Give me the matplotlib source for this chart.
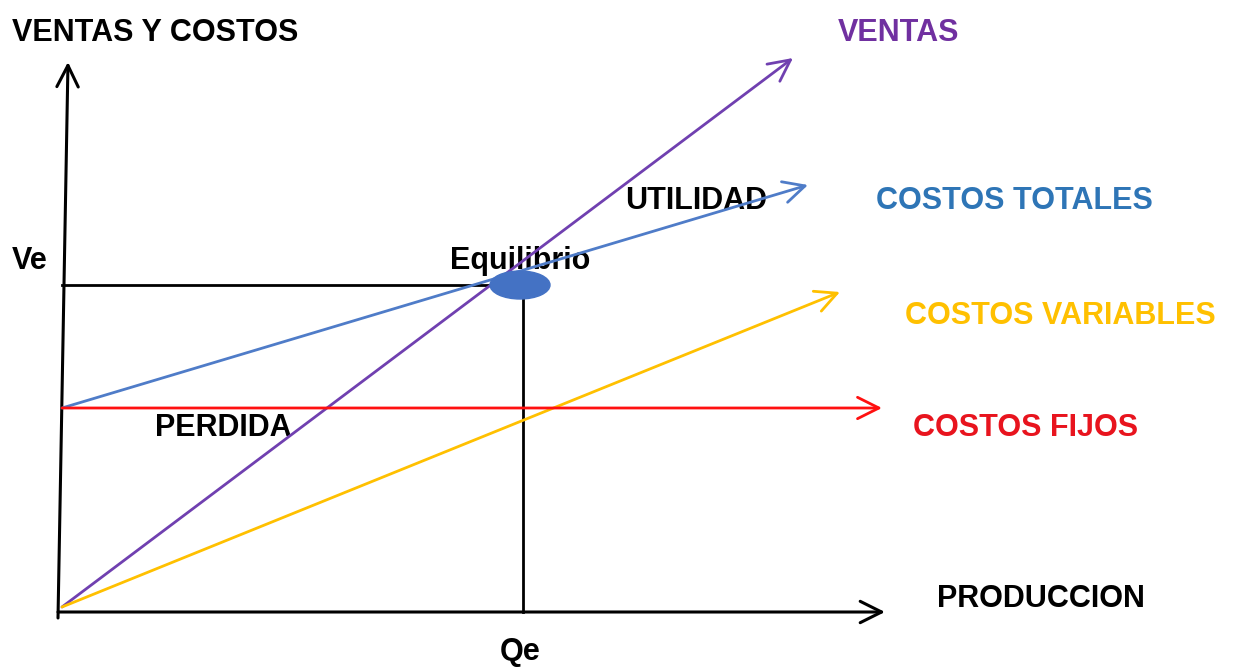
import matplotlib.pyplot as plt
from matplotlib.patches import Ellipse

line_names = ['VENTAS', 'COSTOS TOTALES', 'COSTOS VARIABLES', 'COSTOS FIJOS']
line_start_y = [0, 199, 0, 199]
line_end_x = [731, 746, 778, 820]
line_end_y = [549, 422, 315, 199]
line_colors = ['#7040B0', '#4F7CC8', '#FFC000', '#FF1010']
label_colors = ['#7030A0', '#2E75B6', '#FFC000', '#E8141E']
label_x = [776, 814, 843, 851]
label_y = [574, 406, 291, 179]

qe = 461
ve = 322
eq_point = (458, 322)

plt.rcParams['font.family'] = ['Liberation Sans', 'DejaVu Sans']

fig = plt.figure(figsize=(12.39, 6.70), dpi=100)
ax = fig.add_axes([0, 0, 1, 1])
ax.set_xlim(-62, 1239 - 62)
ax.set_ylim(607 - 670, 607)
ax.axis('off')

fs = 22
arrow_kw = dict(arrowstyle='->, head_length=0.7, head_width=0.35', mutation_scale=22,
                shrinkA=0, shrinkB=0)

# axes arrows
ax.annotate('', xy=(6, 545), xytext=(-4, -11),
            arrowprops=dict(color='black', lw=2.2, **arrow_kw))
ax.annotate('', xy=(823, -5), xytext=(-4, -5),
            arrowprops=dict(color='black', lw=2.2, **arrow_kw))

# guide lines to the break-even point
ax.plot([0, eq_point[0] - 20], [ve, ve], color='black', lw=2.0)
ax.plot([qe, qe], [-5, ve - 10], color='black', lw=2.0)

# cost / sales lines
for sy, ex, ey, c in zip(line_start_y, line_end_x, line_end_y, line_colors):
    ax.annotate('', xy=(ex, ey), xytext=(0, sy),
                arrowprops=dict(color=c, lw=2.0, **arrow_kw))

ax.add_patch(Ellipse(eq_point, 60, 28, color='#4472C4', zorder=5))

for name, x, y, c in zip(line_names, label_x, label_y, label_colors):
    ax.text(x, y, name, color=c, fontsize=fs, fontweight='bold', va='center', ha='left')

ax.text(-50, 574, 'VENTAS Y COSTOS', fontsize=fs, fontweight='bold', va='center')
ax.text(563, 406, 'UTILIDAD', fontsize=fs, fontweight='bold', va='center', zorder=1)
ax.text(-50, 346, 'Ve', fontsize=fs, fontweight='bold', va='center')
ax.text(388, 346, 'Equilibrio', fontsize=fs, fontweight='bold', va='center', zorder=1)
ax.text(93, 179, 'PERDIDA', fontsize=fs, fontweight='bold', va='center', zorder=1)
ax.text(875, 8, 'PRODUCCION', fontsize=fs, fontweight='bold', va='center')
ax.text(458, -45, 'Qe', fontsize=fs, fontweight='bold', va='center', ha='center')

fig.savefig('out.png', dpi=100)
